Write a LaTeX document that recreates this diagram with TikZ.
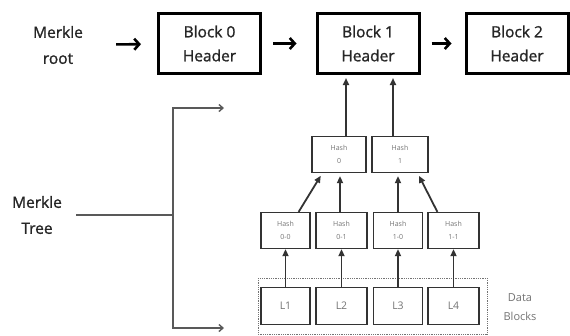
\documentclass[tikz,border=0pt]{standalone}
\usepackage{fontspec}
\setmainfont{Open Sans}
\newfontfamily\labelfont{Open Sans}[RawFeature={embolden=1.3}]
\usepackage{tikz}
\usetikzlibrary{arrows.meta,calc,positioning}
\definecolor{darkgray}{rgb}{0.2,0.2,0.2}
\definecolor{textgray}{rgb}{0.45,0.45,0.45}

\begin{document}
\begin{tikzpicture}[x=1pt,y=-1pt,
    blockbox/.style={draw=black,line width=3pt,minimum width=102pt,minimum height=60pt,
      align=center,inner sep=0pt,text=black!85,font=\labelfont\fontsize{15.5}{24}\selectfont},
    hashbox/.style={draw=darkgray,line width=1.3pt,minimum width=49pt,minimum height=36pt,
      align=center,inner sep=0pt,text=textgray,font=\fontsize{7}{13}\selectfont},
    leafbox/.style={hashbox,minimum height=37pt,font=\fontsize{10.5}{12}\selectfont},
    label/.style={align=center,inner sep=0pt,text=black!85,font=\labelfont\fontsize{15.5}{26}\selectfont},
    toparrow/.style={line width=2.6pt,-{Straight Barb[length=5pt,width=11pt]}},
    treearrow/.style={draw=darkgray,line width=1.8pt,-{Triangle[length=7pt,width=6pt]}},
    brackline/.style={draw=black!65,line width=1.4pt}]
        \useasboundingbox (0,0) rectangle (570,335);
        %Header chain
        \node[label] (root) at (58,45) {Merkle\\root};
        \node[blockbox] (b0) at (209.5,43.5) {Block 0\\Header};
        \node[blockbox] (b1) at (368,43.5) {Block 1\\Header};
        \node[blockbox] (b2) at (517,43.5) {Block 2\\Header};
        \draw[toparrow,shorten <=33pt,shorten >=16pt] (root) -- (b0);
        \draw[toparrow,shorten <=11pt,shorten >=19pt] (b0) -- (b1);
        \draw[toparrow,shorten <=11pt,shorten >=13pt] (b1) -- (b2);
        %Hash nodes
        \node[hashbox,minimum width=54pt] (h0) at (339,154.5) {Hash\\0};
        \node[hashbox,minimum width=56pt] (h1) at (400,154.5) {Hash\\1};
        \node[hashbox] (h00) at (285.5,230.5) {Hash\\0-0};
        \node[hashbox,minimum width=51pt] (h01) at (341.5,230.5) {Hash\\0-1};
        \node[hashbox] (h10) at (398,230.5) {Hash\\1-0};
        \node[hashbox,minimum width=51pt] (h11) at (453.5,230.5) {Hash\\1-1};
        %Data blocks
        \draw[black!55,densely dotted,line width=0.8pt] (258,278) rectangle (487,334);
        \node[leafbox] (l1) at (285.5,306) {L1};
        \node[leafbox,minimum width=51pt] (l2) at (341.5,306) {L2};
        \node[leafbox] (l3) at (398,306) {L3};
        \node[leafbox,minimum width=51pt] (l4) at (453.5,306) {L4};
        \node[align=center,inner sep=0pt,text=textgray,font=\fontsize{11}{19}\selectfont] (data) at (520,307) {Data\\Blocks};
        %Edges
        \draw[treearrow,shorten >=3pt] ([xshift=7pt]h0.north) -- ([xshift=7pt]h0.north |- b1.south);
        \draw[treearrow,shorten >=3pt] ([xshift=-7pt]h1.north) -- ([xshift=-7pt]h1.north |- b1.south);
        \draw[treearrow,shorten >=3pt] ([xshift=-12pt]h00.north east) -- ([xshift=11pt]h0.south west);
        \draw[treearrow,shorten >=3pt] ([xshift=-1.5pt]h01.north) -- ([xshift=-1.5pt]h01.north |- h0.south);
        \draw[treearrow,shorten >=3pt] (h10.north) -- (h10.north |- h1.south);
        \draw[treearrow,shorten >=3pt] ([xshift=10pt]h11.north west) -- ([xshift=-11pt]h1.south east);
        \draw[treearrow] (l1) -- (h00);
        \draw[treearrow] (l2) -- (h01);
        \draw[treearrow] (l3) -- (h10);
        \draw[treearrow] (l4) -- (h11);
        %Merkle tree bracket
        \node[label] (tree) at (37,215) {Merkle\\Tree};
        \coordinate (brk) at (173,215);
        \coordinate (ttop) at (224,108);
        \coordinate (tbot) at (224,328);
        \draw[brackline,shorten <=14pt] (tree) -- (brk);
        \draw[brackline,-{Straight Barb[length=4pt,width=7pt]}] (brk) |- (ttop);
        \draw[brackline,-{Straight Barb[length=4pt,width=7pt]}] (brk) |- (tbot);
      \end{tikzpicture}
\end{document}
